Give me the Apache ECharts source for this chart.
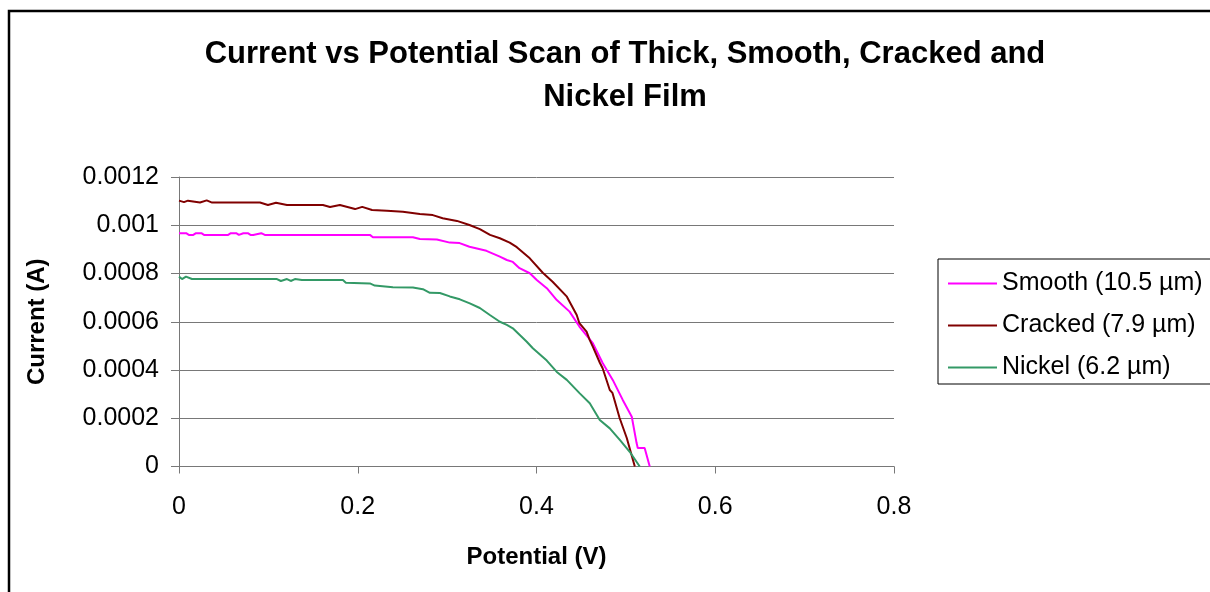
<!DOCTYPE html>
<html>
<head>
<meta charset="utf-8">
<script src="https://cdn.jsdelivr.net/npm/echarts@6/dist/echarts.min.js"></script>
<style>
  html, body { margin: 0; padding: 0; background: #ffffff; }
  #chart { width: 1210px; height: 592px; }
</style>
</head>
<body>
<div id="chart"></div>
<script>
// Potential (V) and current (A) readings for each film
const smoothV = [0, 0.008, 0.011, 0.016, 0.019, 0.025, 0.028, 0.055, 0.058, 0.064, 0.067, 0.069, 0.072, 0.077, 0.080, 0.083, 0.085, 0.092, 0.096, 0.2136, 0.217, 0.2617, 0.2695, 0.2885, 0.303, 0.314, 0.325, 0.344, 0.359, 0.3668, 0.3735, 0.381, 0.3925, 0.4003, 0.4115, 0.4227, 0.437, 0.448, 0.463, 0.474, 0.4853, 0.4965, 0.5066, 0.512, 0.5133, 0.521, 0.5267];
const smoothI = [0.000967, 0.000967, 0.00096, 0.00096, 0.000967, 0.000967, 0.00096, 0.00096, 0.000967, 0.000967, 0.00096, 0.00096, 0.000967, 0.000967, 0.00096, 0.00096, 0.000967, 0.000967, 0.00096, 0.00096, 0.00095, 0.00095, 0.000943, 0.000941, 0.000928, 0.000926, 0.000911, 0.000894, 0.00087, 0.000856, 0.000848, 0.000822, 0.000801, 0.000773, 0.000739, 0.00069, 0.000642, 0.00058, 0.000511, 0.000429, 0.000359, 0.000276, 0.000206, 0.000097, 0.000077, 0.000077, 0];

const crackedV = [0, 0.0056, 0.010, 0.0235, 0.031, 0.037, 0.0906, 0.0995, 0.1085, 0.1208, 0.161, 0.169, 0.180, 0.197, 0.205, 0.216, 0.2326, 0.2505, 0.2695, 0.284, 0.295, 0.311, 0.325, 0.3366, 0.348, 0.359, 0.370, 0.378, 0.3925, 0.407, 0.418, 0.434, 0.445, 0.448, 0.456, 0.4596, 0.463, 0.471, 0.474, 0.482, 0.485, 0.493, 0.501, 0.510];
const crackedI = [0.001102, 0.001096, 0.001102, 0.001094, 0.001103, 0.001094, 0.001094, 0.001084, 0.001093, 0.001084, 0.001084, 0.001076, 0.001084, 0.001067, 0.001076, 0.001063, 0.00106, 0.001056, 0.001047, 0.001042, 0.001029, 0.001018, 0.001001, 0.000984, 0.00096, 0.000946, 0.000928, 0.000909, 0.000863, 0.000803, 0.000766, 0.000704, 0.000628, 0.000594, 0.000559, 0.000524, 0.000497, 0.000429, 0.000407, 0.000317, 0.000305, 0.000201, 0.000118, 0];

const nickelV = [0, 0.0034, 0.0078, 0.0145, 0.1096, 0.114, 0.1208, 0.125, 0.1297, 0.1375, 0.1834, 0.1867, 0.2136, 0.219, 0.2393, 0.2617, 0.2729, 0.2807, 0.2919, 0.303, 0.3142, 0.3254, 0.3366, 0.3478, 0.359, 0.3668, 0.3735, 0.3813, 0.3891, 0.3959, 0.4115, 0.4227, 0.4339, 0.4484, 0.4596, 0.4708, 0.482, 0.4932, 0.5043, 0.5155];
const nickelI = [0.000787, 0.000777, 0.000787, 0.000777, 0.000777, 0.000769, 0.000777, 0.000769, 0.000777, 0.000773, 0.000773, 0.000762, 0.000759, 0.00075, 0.000743, 0.000742, 0.000735, 0.00072, 0.000719, 0.000705, 0.000693, 0.000676, 0.000657, 0.000628, 0.0006, 0.000587, 0.000573, 0.000545, 0.000517, 0.00049, 0.000439, 0.000392, 0.000359, 0.000303, 0.000262, 0.000193, 0.000158, 0.00011, 0.000061, 0];

const seriesNames = ['Smooth (10.5 µm)', 'Cracked (7.9 µm)', 'Nickel (6.2 µm)'];
const seriesColors = ['#FF00FF', '#800000', '#339966'];

const titleText = 'Current vs Potential Scan of Thick, Smooth, Cracked and\nNickel Film';
const xTitle = 'Potential (V)';
const yTitle = 'Current (A)';

const FONT = '"Liberation Sans", Arial, sans-serif';
const AXIS_GRAY = '#787878';

function pairs(xs, ys) {
  return xs.map((x, i) => [x, ys[i]]);
}

const chart = echarts.init(document.getElementById('chart'), null, { renderer: 'canvas' });

const lineSeries = [
  pairs(smoothV, smoothI),
  pairs(crackedV, crackedI),
  pairs(nickelV, nickelI)
].map((data, i) => ({
  name: seriesNames[i],
  type: 'line',
  data: data,
  symbol: 'none',
  showSymbol: false,
  lineStyle: { color: seriesColors[i], width: 2 },
  itemStyle: { color: seriesColors[i] },
  emphasis: { disabled: true }
}));

chart.setOption({
  animation: false,
  backgroundColor: '#ffffff',
  title: {
    text: titleText,
    left: 620,
    top: 28,
    textAlign: 'center',
    textStyle: {
      fontFamily: FONT,
      fontSize: 31,
      fontWeight: 'bold',
      color: '#000000',
      lineHeight: 43,
      align: 'center'
    }
  },
  legend: {
    orient: 'vertical',
    left: 938,
    top: 259,
    padding: [12, 10, 4, 10],
    itemGap: 17,
    itemWidth: 49,
    itemHeight: 2,
    icon: 'rect',
    borderColor: '#000000',
    borderWidth: 1,
    backgroundColor: '#ffffff',
    textStyle: { fontFamily: FONT, fontSize: 25, color: '#000000', lineHeight: 25 },
    data: seriesNames
  },
  grid: {
    left: 179,
    top: 177,
    right: 316,
    bottom: 125.5
  },
  xAxis: {
    type: 'value',
    min: 0,
    max: 0.8,
    interval: 0.2,
    name: xTitle,
    nameLocation: 'middle',
    nameGap: 79,
    nameTextStyle: { fontFamily: FONT, fontSize: 24, fontWeight: 'bold', color: '#000000' },
    axisLine: { show: true, onZero: false, lineStyle: { color: AXIS_GRAY, width: 1 } },
    axisTick: { show: true, inside: false, length: 7, lineStyle: { color: AXIS_GRAY } },
    axisLabel: {
      margin: 28,
      fontFamily: FONT,
      fontSize: 25,
      color: '#000000',
      formatter: v => String(parseFloat(v.toFixed(2)))
    },
    splitLine: { show: false }
  },
  yAxis: {
    type: 'value',
    min: 0,
    max: 0.0012,
    interval: 0.0002,
    name: yTitle,
    nameLocation: 'middle',
    nameGap: 130,
    nameTextStyle: { fontFamily: FONT, fontSize: 24, fontWeight: 'bold', color: '#000000' },
    axisLine: { show: true, lineStyle: { color: AXIS_GRAY, width: 1 } },
    axisTick: { show: true, inside: false, length: 8, lineStyle: { color: AXIS_GRAY } },
    axisLabel: {
      margin: 20,
      fontFamily: FONT,
      fontSize: 25,
      color: '#000000',
      formatter: v => String(parseFloat(v.toFixed(4)))
    },
    splitLine: { show: true, lineStyle: { color: AXIS_GRAY, width: 1 } }
  },
  graphic: [
    {
      type: 'rect',
      silent: true,
      shape: { x: 9, y: 11, width: 1400, height: 800 },
      style: { fill: 'none', stroke: '#000000', lineWidth: 2.5 },
      z: 100
    }
  ],
  series: lineSeries
});
</script>
</body>
</html>
